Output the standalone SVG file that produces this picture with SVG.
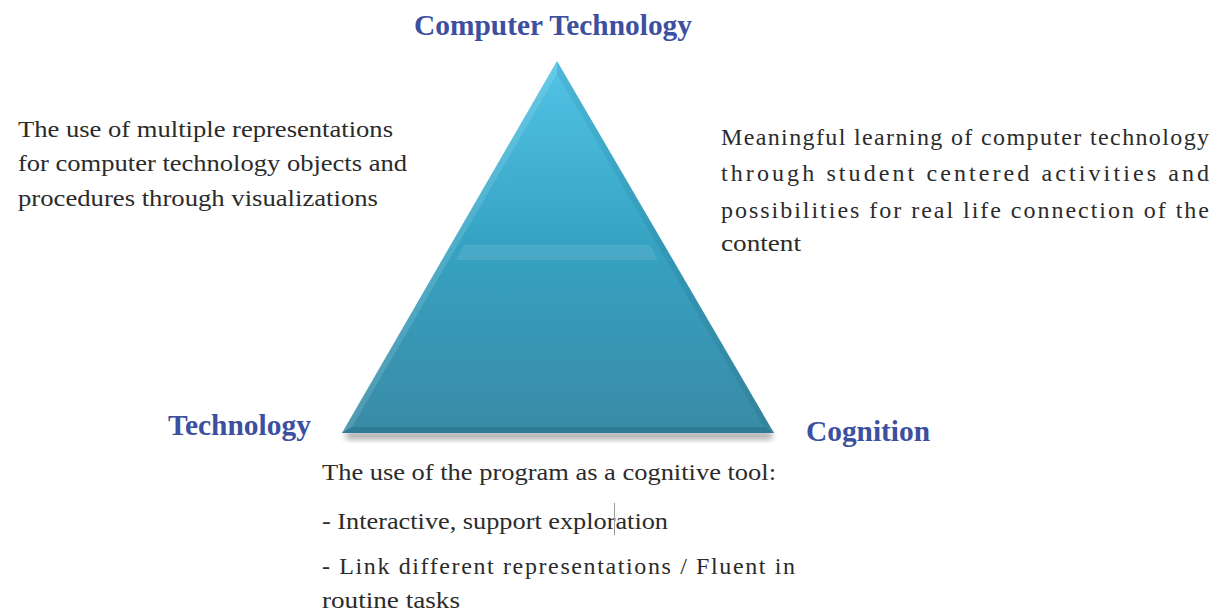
<svg xmlns="http://www.w3.org/2000/svg" width="1214" height="611" viewBox="0 0 1214 611">
  <style>
    .head { font-family: "Liberation Serif", "Times New Roman", serif; font-weight: bold; fill: #3d4f9f; font-size: 29px; }
    .body { font-family: "Liberation Serif", "Times New Roman", serif; fill: #2b2b2b; font-size: 24px; }
  </style>
  <defs>
    <linearGradient id="triFill" x1="0" y1="0" x2="0" y2="1">
      <stop offset="0" stop-color="#52c4e6"/>
      <stop offset="0.5" stop-color="#36a2c2"/>
      <stop offset="1" stop-color="#3a8ba6"/>
    </linearGradient>
    <filter id="soft" x="-20%" y="-50%" width="140%" height="200%">
      <feGaussianBlur stdDeviation="3"/>
    </filter>
  </defs>
  <rect width="1214" height="611" fill="#ffffff"/>

  <g id="triangle">
    <!-- drop shadow under base -->
    <rect x="346" y="432" width="426" height="7" fill="#555" opacity="0.55" filter="url(#soft)"/>
    <polygon points="557,61 342,433 774,433" fill="url(#triFill)"/>
    <!-- bevel edges -->
    <polygon points="557,61 342,433 352,427 557,74" fill="#ffffff" opacity="0.12"/>
    <polygon points="557,61 774,433 764,427 557,74" fill="#000000" opacity="0.06"/>
    <polygon points="342,433 774,433 764,427 352,427" fill="#1d5f75" opacity="0.35"/>
    <!-- glossy band -->
    <polygon points="464,245 650,245 658,260 456,260" fill="#ffffff" opacity="0.1"/>
  </g>

  <g id="label-top">
    <text class="head" x="553" y="35" text-anchor="middle" textLength="278" lengthAdjust="spacingAndGlyphs">Computer Technology</text>
  </g>
  <g id="label-left">
    <text class="head" x="168" y="435" textLength="143" lengthAdjust="spacingAndGlyphs">Technology</text>
  </g>
  <g id="label-right">
    <text class="head" x="806" y="441" textLength="124" lengthAdjust="spacingAndGlyphs">Cognition</text>
  </g>

  <g id="text-left" class="body">
    <text x="18" y="137" textLength="375" lengthAdjust="spacingAndGlyphs">The use of multiple representations</text>
    <text x="18" y="171" textLength="389" lengthAdjust="spacingAndGlyphs">for computer technology objects and</text>
    <text x="18" y="206" textLength="360" lengthAdjust="spacingAndGlyphs">procedures through visualizations</text>
  </g>

  <g id="text-right" class="body">
    <text x="721" y="145" textLength="488" lengthAdjust="spacing">Meaningful learning of computer technology</text>
    <text x="721" y="181" textLength="488" lengthAdjust="spacing">through student centered activities and</text>
    <text x="721" y="218" textLength="488" lengthAdjust="spacing">possibilities for real life connection of the</text>
    <text x="721" y="251" textLength="80" lengthAdjust="spacingAndGlyphs">content</text>
  </g>

  <g id="text-bottom" class="body">
    <text x="322" y="480" textLength="454" lengthAdjust="spacingAndGlyphs">The use of the program as a cognitive tool:</text>
    <text x="322" y="529" textLength="346" lengthAdjust="spacingAndGlyphs">- Interactive, support exploration</text>
    <line x1="614.5" y1="503" x2="614.5" y2="535" stroke="#9a9a9a" stroke-width="1"/>
    <text x="322" y="574" textLength="473" lengthAdjust="spacing">- Link different representations / Fluent in</text>
    <text x="322" y="608" textLength="138" lengthAdjust="spacingAndGlyphs">routine tasks</text>
  </g>
</svg>
